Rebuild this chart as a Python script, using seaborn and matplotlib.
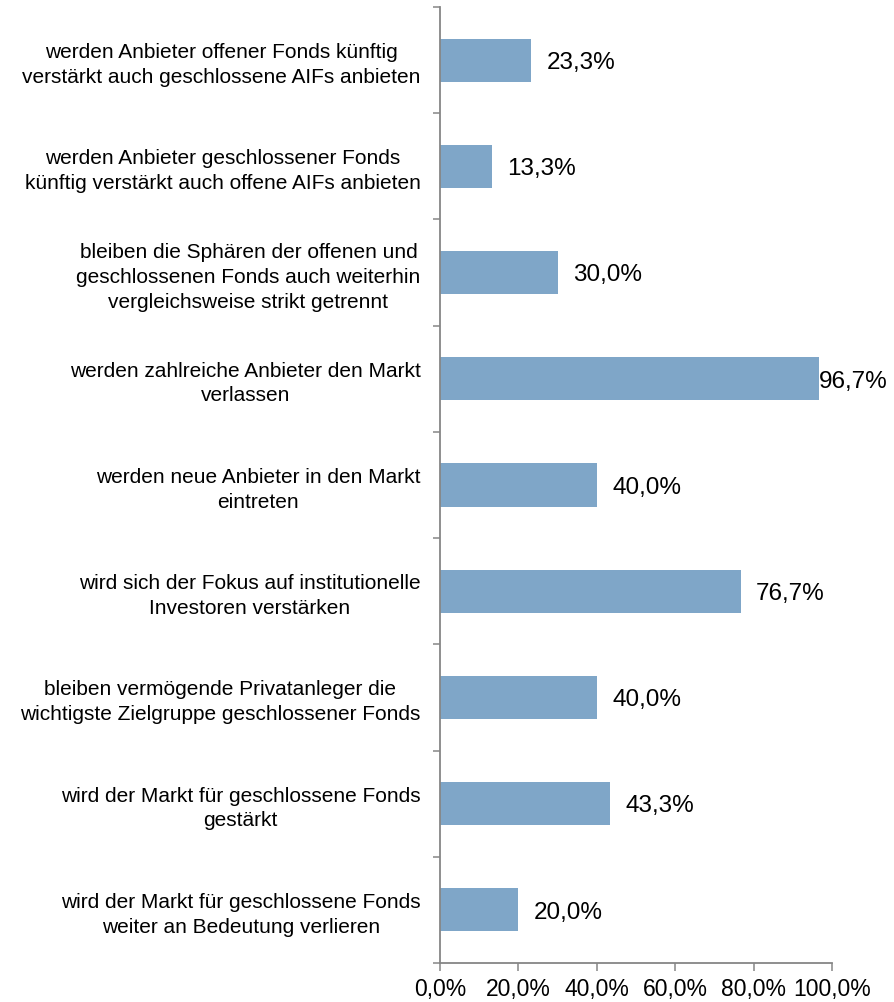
import matplotlib
matplotlib.use("Agg")
import matplotlib.pyplot as plt
from matplotlib.ticker import FixedLocator, FuncFormatter
import seaborn as sns
import pandas as pd

statements = [
    "werden Anbieter offener Fonds künftig\nverstärkt auch geschlossene AIFs anbieten",
    "werden Anbieter geschlossener Fonds\nkünftig verstärkt auch offene AIFs anbieten",
    "bleiben die Sphären der offenen und\ngeschlossenen Fonds auch weiterhin\nvergleichsweise strikt getrennt",
    "werden zahlreiche Anbieter den Markt\nverlassen",
    "werden neue Anbieter in den Markt\neintreten",
    "wird sich der Fokus auf institutionelle\nInvestoren verstärken",
    "bleiben vermögende Privatanleger die\nwichtigste Zielgruppe geschlossener Fonds",
    "wird der Markt für geschlossene Fonds\ngestärkt",
    "wird der Markt für geschlossene Fonds\nweiter an Bedeutung verlieren",
]
shares = [23.3, 13.3, 30.0, 96.7, 40.0, 76.7, 40.0, 43.3, 20.0]
x_ticks = [0, 20, 40, 60, 80, 100]

sns.set_theme(style="white")
plt.rcParams["font.family"] = ["Liberation Sans", "DejaVu Sans"]

df = pd.DataFrame({"statement": statements, "share": shares})

fig = plt.figure(figsize=(8.95, 10.02), dpi=100)
ax = fig.add_axes([440 / 895, 1 - 963 / 1002, 392 / 895, 956 / 1002])

sns.barplot(data=df, x="share", y="statement", orient="h", color="#7FA6C8",
            saturation=1, width=0.405, edgecolor="none", ax=ax)

ax.set_xlim(0, 100)
ax.set_ylim(len(statements) - 0.5, -0.5)
ax.set_xlabel("")
ax.set_ylabel("")

def de_pct(v):
    return f"{v:.1f}".replace(".", ",") + "%"

ax.xaxis.set_major_locator(FixedLocator(x_ticks))
ax.xaxis.set_major_formatter(FuncFormatter(lambda v, p: de_pct(v)))
ax.tick_params(axis="x", which="major", bottom=True, length=6, width=1.1,
               color="#868686", labelsize=16.5, pad=5, labelcolor="black")

# category labels without ticks; ticks placed on category boundaries
ax.tick_params(axis="y", which="major", left=False, length=0, pad=14,
               labelsize=15, labelcolor="black")
for lab in ax.get_yticklabels():
    lab.set_multialignment("center")
    lab.set_linespacing(1.38)
ax.yaxis.set_minor_locator(FixedLocator([i - 0.5 for i in range(len(statements) + 1)]))
ax.tick_params(axis="y", which="minor", left=True, length=5, width=1.1,
               color="#868686")

for side in ("top", "right"):
    ax.spines[side].set_visible(False)
for side in ("left", "bottom"):
    ax.spines[side].set_color("#868686")
    ax.spines[side].set_linewidth(1.3)

# value labels at the bar ends; long bars keep the label flush at the end
for i, v in enumerate(shares):
    offset = 0 if v > 90 else 11
    ax.annotate(de_pct(v), xy=(v, i), xytext=(offset, -2),
                textcoords="offset points", ha="left", va="center",
                fontsize=17.5, color="black", annotation_clip=False)

fig.savefig("out.png", dpi=100)
